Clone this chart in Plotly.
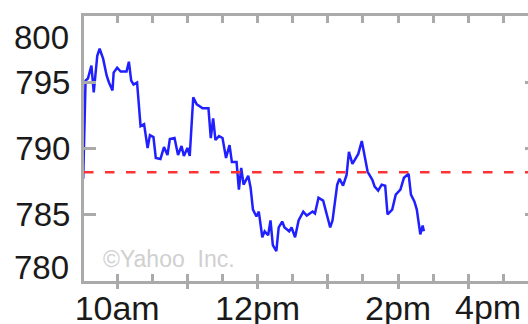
import pandas as pd
import plotly.graph_objects as go

# intraday quote, minutes after 9:30 open
minutes = [1, 3, 5, 8, 10, 13, 15, 18, 21, 23, 26, 27, 30, 33, 38, 40, 42, 44, 47, 49,
           50, 53, 56, 58, 61, 63, 67, 70, 73, 75, 79, 82, 85, 87, 90, 92, 95, 98, 103, 108,
           110, 112, 114, 117, 120, 123, 126, 128, 132, 134, 136, 138, 142, 144, 146, 149, 151, 154, 156, 159,
           161, 163, 166, 168, 171, 173, 177, 179, 182, 185, 189, 192, 197, 199, 202, 206, 208, 212, 214, 218,
           220, 223, 226, 228, 231, 233, 236, 239, 242, 244, 248, 250, 253, 256, 259, 261, 265, 268, 272, 275,
           279, 281, 284, 286, 289, 291, 292]
prices = [787.72, 795.13, 795.28, 796.25, 794.23, 797.0, 797.53, 796.78, 795.51, 794.98,
          794.38, 795.73, 796.10, 795.81, 795.81, 796.55, 795.13, 794.83, 794.98, 792.28,
          791.69, 791.84, 790.04, 791.01, 790.86, 789.29, 789.21, 790.11, 789.51, 790.71,
          790.79, 789.51, 790.19, 789.44, 790.04, 789.44, 793.86, 793.33, 793.03, 793.03,
          790.79, 792.28, 790.64, 790.94, 790.79, 789.29, 790.26, 788.99, 788.99, 786.89,
          788.54, 787.27, 787.94, 787.04, 785.39, 784.87, 785.24, 783.30, 783.75, 783.45,
          784.57, 782.70, 782.25, 784.04, 784.49, 784.04, 783.75, 784.04, 783.30, 784.57,
          785.24, 784.94, 785.24, 785.09, 786.29, 786.07, 785.39, 784.04, 784.57, 787.27,
          787.72, 787.19, 788.01, 789.74, 788.84, 789.14, 789.59, 790.56, 788.99, 788.24,
          787.64, 787.12, 786.82, 787.27, 787.19, 785.02, 785.39, 786.52, 786.89, 787.79,
          788.09, 786.52, 785.99, 785.39, 783.52, 784.19, 783.75]
prev_close = 788.2

y_ticks = [785, 790, 795]
hour_ticks = ["10:00", "11:00", "12:00", "13:00", "14:00", "15:00"]
label_ticks = ["10:00", "12:00", "14:00"]
label_text = ["10am", "12pm", "2pm"]

day = pd.Timestamp("2016-01-04")
open_t = day + pd.Timedelta(hours=9, minutes=30)
times = [open_t + pd.Timedelta(minutes=m) for m in minutes]
x_range = [open_t + pd.Timedelta(seconds=100), open_t + pd.Timedelta(minutes=381)]
hour_vals = [day + pd.Timedelta(h + ":00") for h in hour_ticks]
label_vals = [day + pd.Timedelta(h + ":00") for h in label_ticks]

grey = "#aaaaaa"
txt = "#1a1a1a"
font = "Liberation Sans, Arial, sans-serif"

fig = go.Figure()
fig.add_trace(go.Scatter(x=times, y=prices, mode="lines",
                         line=dict(color="#2020ff", width=2.5), hoverinfo="skip"))
# invisible traces to bring up the extra axes
fig.add_trace(go.Scatter(x=[times[0]], y=[prices[0]], xaxis="x2", yaxis="y2",
                         mode="markers", marker=dict(opacity=0), hoverinfo="skip"))
fig.add_trace(go.Scatter(x=[times[0]], y=[prices[0]], xaxis="x3", yaxis="y",
                         mode="markers", marker=dict(opacity=0), hoverinfo="skip"))

fig.add_shape(type="line", xref="paper", x0=0, x1=1, yref="y", y0=prev_close, y1=prev_close,
              line=dict(color="#ff3333", width=2.5, dash="9.5px,11.5px"))

fig.update_layout(
    width=528, height=324,
    margin=dict(l=84, r=0, t=16, b=43, autoexpand=False),
    paper_bgcolor="white", plot_bgcolor="white",
    showlegend=False,
    font=dict(family=font, color=txt, size=33),
    # half-hour ticks, inside, mirrored on top
    xaxis=dict(type="date", range=x_range, showgrid=False, zeroline=False, automargin=False,
               showline=True, linecolor=grey, linewidth=3, mirror="ticks",
               ticks="inside", ticklen=7, tickwidth=3, tickcolor=grey,
               tick0=open_t, dtick=30 * 60 * 1000, showticklabels=False),
    # hourly ticks poking below the frame
    xaxis2=dict(type="date", range=x_range, overlaying="x", side="bottom", anchor="y",
                showgrid=False, zeroline=False, showline=False, automargin=False,
                ticks="outside", ticklen=7, tickwidth=3, tickcolor=grey,
                tickmode="array", tickvals=hour_vals, showticklabels=False),
    # time labels
    xaxis3=dict(type="date", range=x_range, overlaying="x", side="bottom", anchor="y",
                showgrid=False, zeroline=False, showline=False, automargin=False,
                ticks="", tickmode="array", tickvals=label_vals, ticktext=label_text,
                ticklabelstandoff=4,
                tickfont=dict(size=34, color=txt)),
    yaxis=dict(range=[780, 800], showgrid=False, zeroline=False, automargin=False,
               showline=True, linecolor=grey, linewidth=3,
               ticks="inside", ticklen=12, tickwidth=3, tickcolor=grey,
               tickmode="array", tickvals=y_ticks, ticktext=[str(v) for v in y_ticks],
               ticklabelstandoff=4,
               tickfont=dict(size=33, color=txt)),
    yaxis2=dict(range=[780, 800], overlaying="y", side="right", anchor="x",
                showgrid=False, zeroline=False, showline=False, automargin=False,
                ticks="inside", ticklen=3, tickwidth=3, tickcolor=grey,
                tickmode="array", tickvals=y_ticks, showticklabels=False),
)

top, bottom, left, right = 16, 281, 84, 528

# end labels pulled inside the frame, as on the original
for label, xp, yp, xa, size in [("800", 70, 37, "right", 33), ("780", 70, 267, "right", 33),
                                ("4pm", 488, 307, "center", 34)]:
    fig.add_annotation(text=label, xref="paper", yref="paper",
                       x=(xp - left) / (right - left), y=(bottom - yp) / (bottom - top),
                       xanchor=xa, yanchor="middle",
                       showarrow=False, borderpad=0, font=dict(size=size, color=txt))

fig.add_annotation(text="©Yahoo  Inc.", xref="paper", yref="paper",
                   x=(102 - left) / (right - left), y=(bottom - 259) / (bottom - top),
                   xanchor="left", yanchor="middle",
                   showarrow=False, borderpad=0, font=dict(size=23, color="#d0d0d0"))

# page body has a default margin; drop it so the figure sits at the window corner
fig.write_html("out.html", config={"displayModeBar": False},
               post_script="document.body.style.margin='0';document.body.style.overflow='hidden';")
